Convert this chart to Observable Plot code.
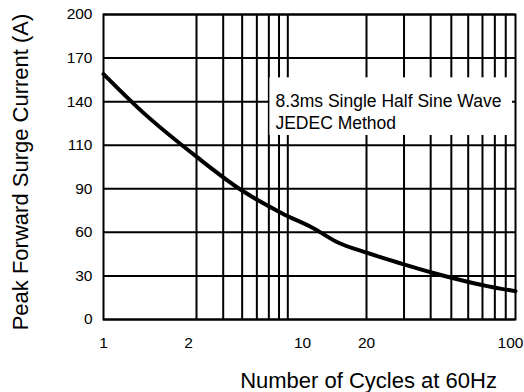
<!DOCTYPE html>
<html><head><meta charset="utf-8">
<script src="https://cdn.jsdelivr.net/npm/d3@7"></script>
<script src="https://cdn.jsdelivr.net/npm/@observablehq/plot@0.6"></script>
<style>
html,body{margin:0;padding:0;background:#fff;}
#chart svg{display:block;}
</style></head><body><div id="chart"></div>
<script>
// Data
const cycles = [1, 1.32, 2.02, 3.9, 7.35, 11.3, 14.6, 20, 29.4, 41.2, 54, 73.7, 100];
const current = [159, 134, 104.5, 89.5, 73, 62.7, 53.2, 46, 38.3, 32, 27.5, 23, 19.5];
const yTicks = [0, 30, 60, 90, 110, 140, 170, 200];
const xTicks = [1, 2, 10, 20, 100];
const xGrid = [2, 3, 4, 5, 6, 7, 8, 20, 30, 40, 50, 60, 70, 80, 90];
const noteLines = ["8.3ms Single Half Sine Wave", "JEDEC Method"];
const noteAt = [{x: 6.63, y: 147.2}];
const noteBox = [{x1: 6.1, x2: 96.8, y1: 116.7, y2: 156.4}];
const xLabel = "Number of Cycles at 60Hz";
const yLabel = "Peak Forward Surge Current (A)";
// x scale anchors (the printed log grid is not uniform)
const xAnchors = [1, 2, 10, 20, 100];
const xAnchorFrac = [0, 93/412, 199/412, 263/412, 1];

const W = 524, H = 392, mL = 103, mR = 9, mT = 14, mB = 73;
const pw = W - mL - mR, ph = H - mT - mB;
const xRange = xAnchorFrac.map(f => mL + f * pw);
const yRange = yTicks.map((_, i) => (H - mB) - i * ph / (yTicks.length - 1));

const data = cycles.map((c, i) => ({cycles: c, current: current[i]}));
const font = "'Liberation Sans', Arial, Helvetica, sans-serif";
const tickFont = 15.5;
const xTickOpts = {tickSize: 0, tickPadding: 17, fontSize: tickFont, tickFormat: d => String(d), label: null};

const chart = Plot.plot({
  width: W, height: H,
  marginLeft: mL, marginRight: mR, marginTop: mT, marginBottom: mB,
  style: {fontFamily: font, fontSize: tickFont + "px", color: "#000", background: "#fff"},
  x: {type: "log", domain: xAnchors, range: xRange},
  y: {type: "linear", domain: yTicks, range: yRange},
  marks: [
    Plot.ruleX(xGrid, {stroke: "#000", strokeWidth: 2}),
    Plot.ruleY(yTicks, {stroke: "#000", strokeWidth: 2}),
    Plot.rect(noteBox, {x1: "x1", x2: "x2", y1: "y1", y2: "y2", fill: "#fff"}),
    Plot.text(noteAt, {x: "x", y: "y", text: () => noteLines.join("\n"), textAnchor: "start", lineAnchor: "top", fontSize: 17.5, lineHeight: 1.26, fill: "#000"}),
    Plot.line(data, {x: "cycles", y: "current", curve: "monotone-x", stroke: "#000", strokeWidth: 4}),
    Plot.frame({stroke: "#000", strokeWidth: 2}),
    Plot.axisX({...xTickOpts, ticks: xTicks.filter(t => t !== 2 && t !== 100)}),
    Plot.axisX({...xTickOpts, ticks: xTicks.filter(t => t === 2), dx: -8}),
    Plot.axisX({...xTickOpts, ticks: xTicks.filter(t => t === 100), dx: -5}),
    Plot.axisY({ticks: yTicks, tickSize: 0, tickPadding: 11, fontSize: tickFont, tickFormat: d => String(d), label: null}),
    Plot.text([xLabel], {text: d => d, frameAnchor: "bottom", dx: 59, dy: 53, lineAnchor: "top", fontSize: 22, fill: "#000"}),
    Plot.text([yLabel], {text: d => d, frameAnchor: "left", textAnchor: "middle", rotate: -90, dx: -91, dy: 5, lineAnchor: "top", fontSize: 22, fill: "#000"})
  ]
});
document.getElementById("chart").appendChild(chart);
</script></body></html>
